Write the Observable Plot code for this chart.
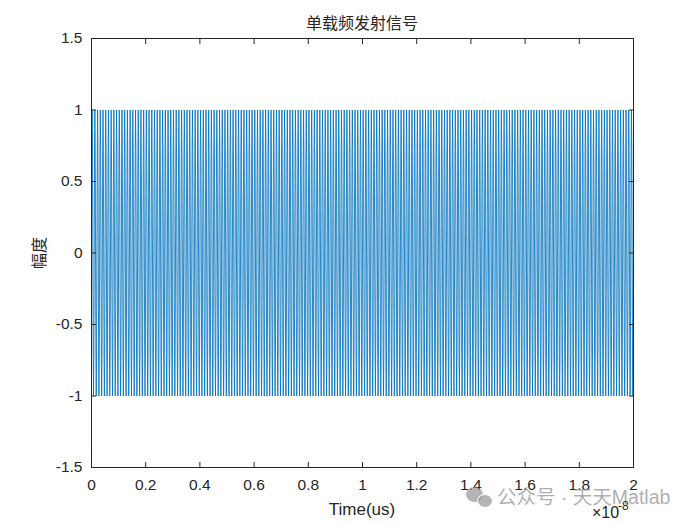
<!DOCTYPE html>
<html>
<head>
<meta charset="utf-8">
<script src="https://cdn.jsdelivr.net/npm/d3@7"></script>
<script src="https://cdn.jsdelivr.net/npm/@observablehq/plot@0.6"></script>
<style>
  html, body { margin: 0; padding: 0; background: #fff; }
  #wrap { position: relative; width: 700px; height: 525px; overflow: hidden; font-family: "Liberation Sans", Arial, sans-serif; }
  #wrap svg { position: absolute; left: 0; top: 0; }
  .ov { position: absolute; white-space: nowrap; line-height: 1; }
</style>
</head>
<body>
<div id="wrap"></div>
<script>
// ---- data ----
const titleText = "单载频发射信号";
const xLabelText = "Time(us)";
const yLabelText = "幅度";
const xTickLabels = [0, 0.2, 0.4, 0.6, 0.8, 1, 1.2, 1.4, 1.6, 1.8, 2];
const xExponent = -8;
const yTicks = [-1.5, -1, -0.5, 0, 0.5, 1, 1.5];
const durationSec = 2e-8;          // x range end (2 x 10^-8)
const carrierCycles = 200;          // cycles visible across the window
const cycleSamples = [0, 0.7071, 1, 0.7071, 0, -0.7071, -1, -0.7071]; // one carrier period
const watermarkText = "公众号 · 天天Matlab";

// table for the library
const nPer = cycleSamples.length;
const nTotal = carrierCycles * nPer;
const signal = [];
for (let k = 0; k <= nTotal; k++) {
  signal.push({ t: k * durationSec / nTotal, v: cycleSamples[k % nPer] });
}
const scale = Math.pow(10, xExponent);
const xTicks = xTickLabels.map(d => d * scale);

const axisColor = "#262626";
const chart = Plot.plot({
  width: 700,
  height: 525,
  marginLeft: 91,
  marginRight: 67,
  marginTop: 38,
  marginBottom: 58,
  style: { fontFamily: "'Liberation Sans', Arial, sans-serif", fontSize: "15.5px", color: axisColor, background: "transparent" },
  x: { domain: [0, durationSec] },
  y: { domain: [-1.5, 1.5] },
  marks: [
    Plot.lineY(signal, { x: "t", y: "v", stroke: "#0072BD", strokeWidth: 0.85 }),
    Plot.frame({ stroke: axisColor, strokeWidth: 1 }),
    Plot.axisX({ anchor: "bottom", ticks: xTicks, tickSize: -5, tickPadding: 16, label: null,
      tickFormat: d => String(+(d / scale).toFixed(1)), stroke: axisColor }),
    Plot.axisX({ anchor: "top", ticks: xTicks, tickSize: -5, tickFormat: () => "", label: null, stroke: axisColor }),
    Plot.axisY({ anchor: "left", ticks: yTicks, tickSize: -5, tickPadding: 14, label: null,
      tickFormat: d => String(d), stroke: axisColor }),
    Plot.axisY({ anchor: "right", ticks: yTicks, tickSize: -5, tickFormat: () => "", label: null, stroke: axisColor })
  ]
});
const wrap = document.getElementById("wrap");
wrap.appendChild(chart);

function addText(html, css) {
  const d = document.createElement("div");
  d.className = "ov";
  d.innerHTML = html;
  Object.assign(d.style, css);
  wrap.appendChild(d);
  return d;
}
// title
addText(titleText, { left: "362px", top: "14px", transform: "translateX(-50%)", fontSize: "16px", color: "#262626", fontFamily: "'Noto Sans CJK SC', sans-serif" });
// x label
addText(xLabelText, { left: "362px", top: "501px", transform: "translateX(-50%)", fontSize: "17px", color: "#262626" });
// y label
addText(yLabelText, { left: "38px", top: "253px", transform: "translate(-50%,-50%) rotate(-90deg)", fontSize: "16px", color: "#262626", fontFamily: "'Noto Sans CJK SC', sans-serif" });
// watermark icon
addText("", { left: "466px", top: "487px", width: "17px", height: "15px", borderRadius: "50%", background: "rgba(150,150,150,0.7)" });
addText("", { left: "477px", top: "494px", width: "14px", height: "12px", borderRadius: "50%", background: "rgba(150,150,150,0.7)", border: "1px solid #fff" });
// watermark text
addText(watermarkText, { left: "497px", top: "488px", fontSize: "19.5px", color: "rgba(140,140,140,0.7)", fontFamily: "'Liberation Sans', 'Noto Sans CJK SC', sans-serif" });
// exponent
addText("×10", { left: "592px", top: "505px", fontSize: "16px", color: "#262626" });
addText(String(xExponent), { left: "618px", top: "500px", fontSize: "12px", color: "#262626" });
</script>
</body>
</html>
